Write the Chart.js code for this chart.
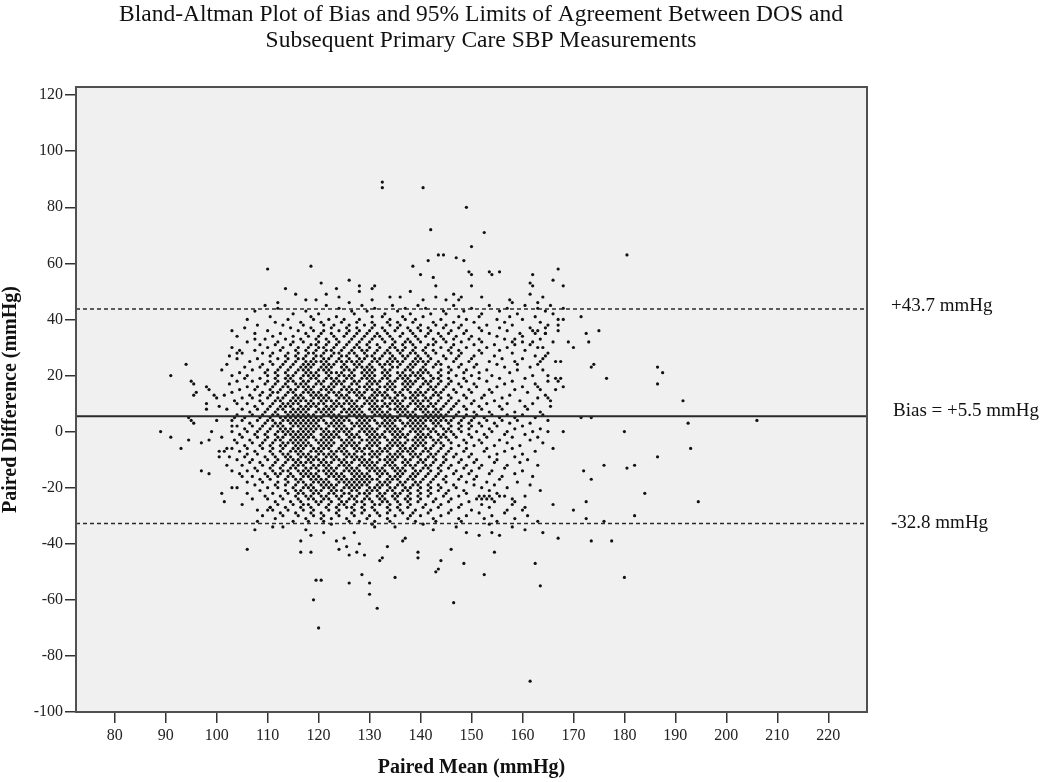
<!DOCTYPE html>
<html>
<head>
<meta charset="utf-8">
<title>Bland-Altman Plot</title>
<script src="https://cdn.jsdelivr.net/npm/chart.js@4.4.1/dist/chart.umd.min.js"></script>
<style>
  html, body { margin: 0; padding: 0; background: #fff; }
  #wrap { width: 1050px; height: 782px; }
</style>
</head>
<body>
<div id="wrap"><canvas id="baChart"></canvas></div>
<script>
// Bias and limits of agreement
const biasValue = 5.5;
const upperLoa = 43.7;
const lowerLoa = -32.8;
const limitLabels = ['+43.7 mmHg', 'Bias = +5.5 mmHg', '-32.8 mmHg'];
const titleLines = ['Bland-Altman Plot of Bias and 95% Limits of Agreement Between DOS and',
  'Subsequent Primary Care SBP Measurements'];

// axis ranges
const meanMin = 72.4, meanMax = 227.6;
const diffMin = -100, diffMax = 122.9;

// isolated points, [paired mean, paired difference]
const upperTail = [[110,58],[118.5,59],[120.5,53],[113.5,51],[117.5,47],[132.5,89],[132.5,87],[140.5,87],[149,80],[142,72],[152.5,71],[150,66],[143.5,63],[144.5,63],[141.5,61],[147,62],[148.5,61],[138.5,59],[140,56],[142.5,55],[143,52],[143,48],[149.5,57],[150,56],[153.5,57],[154,56],[155.5,57],[150,52],[148,48],[152,48],[162,56],[161.5,53],[162,52],[167,58],[166,54],[168,52],[161.5,49],[163,46],[164,48],[126,54],[123.5,51],[128,52],[130.5,51],[131,52],[134,48],[136,48],[126,46],[180.5,63],[128,50],[138,50],[130.5,47],[140.5,47],[145,47],[146.5,49],[157.5,47],[158,46],[147.5,47],[124,48],[121.5,49],[119.5,47],[115.5,49],[112,46]];
const rightTail = [[171.5,41],[172.5,35],[173,32],[175,36],[173.5,23],[174,24],[176.5,19],[186.5,23],[187.5,21],[186.5,17],[191.5,11],[171.5,5],[173.5,5],[192.5,3],[206,4],[180,0],[193,-6],[186.5,-9],[172,-14],[176,-12],[180.5,-13],[182,-12],[173.5,-17],[184,-22],[172.5,-25],[194.5,-25],[172.5,-31],[176,-32],[182,-30],[173.5,-39],[177.5,-39],[180,-52]];
const rightEdge = [[158.5,33],[158.5,31],[160,32],[162,32],[162.5,35],[163,36],[164.5,37],[164.5,35],[167,38],[168,40],[169,32],[170,30],[163,30],[163.5,25],[164,26],[164.5,27],[167.5,25],[159,24],[165,20],[166.5,19],[167,18],[167.5,19],[168,16],[163,16],[163.5,15],[165,12],[165.5,11]];
const leftTail = [[89,0],[91,-2],[94.5,-3],[97,-4],[98.5,-3],[100.5,-7],[100.5,-9],[101.5,-7],[102,-6],[102.5,-9],[102,-12],[103,-20],[103,-14],[104.5,-15],[101.5,-25],[101,-22],[97,-14],[98.5,-15],[93,-6],[110,-28],[110.5,-27],[91,20],[94,24],[103,36],[107.5,33],[102.5,27],[104,28],[104.5,29],[101,22],[95,18],[95.5,17],[96,14],[95.5,13],[98,16],[98.5,15],[99.5,13],[100,12],[98,10],[98,8],[100.5,9],[101.5,13],[94.5,5],[95,4],[95.5,3],[100,4],[99,0],[101,-2],[103,4],[103,2]];
const lowerTail = [[120,-70],[119,-60],[119.5,-53],[120.5,-53],[116.5,-39],[116.5,-43],[118.5,-43],[118.5,-37],[106,-42],[107.5,-35],[111,-34],[161.5,-89],[146.5,-61],[131.5,-63],[126,-54],[130,-54],[130,-58],[128.5,-51],[135,-52],[132,-46],[132.5,-45],[143,-50],[143.5,-49],[144,-46],[148.5,-47],[152.5,-51],[139.5,-43],[139.5,-45],[146,-42],[154.5,-43],[162.5,-47],[163.5,-55],[129,-44],[133.5,-41],[128,-40],[123.5,-39],[124,-42],[136.5,-39],[137,-38],[167,-38],[164,-36],[149,-36],[151.5,-37],[154,-36],[155.5,-37],[125,-38],[125.5,-41],[126,-44],[127.5,-43],[131,-34],[130.5,-33],[142.5,-35],[113,-34],[117.5,-35],[121,-36],[135,-34],[140.5,-33],[147,-34],[153.5,-33],[158,-34],[160.5,-35],[122.5,-33],[127,-36]];

// cloud rows: first value is the paired difference, the rest are paired means
const upperBand = [
  [45, 109.5, 121.5, 128.5, 134.5, 139.5, 146.5, 153.5, 160.5, 165.5],
  [44, 112, 124, 131, 137, 141, 150, 157, 163, 168],
  [43, 107.5, 117.5, 126.5, 129.5, 135.5, 144.5, 148.5, 155.5, 164.5],
  [42, 115, 120, 127, 133, 138, 142, 145, 152, 159, 166],
  [41, 110.5, 118.5, 123.5, 130.5, 132.5, 136.5, 140.5, 147.5, 151.5, 157.5, 162.5],
  [40, 106, 114, 119, 122, 125, 128, 134, 137, 139, 144, 149, 155, 160, 167],
  [39, 111.5, 116.5, 120.5, 124.5, 127.5, 130.5, 133.5, 135.5, 138.5, 142.5, 146.5, 150.5, 156.5, 163.5],
  [38, 108, 113, 117, 121, 123, 126, 129, 131, 134, 136, 140, 143, 145, 148, 153, 158, 165],
  [37, 105.5, 114.5, 118.5, 122.5, 125.5, 127.5, 130.5, 132.5, 135.5, 137.5, 139.5, 141.5, 144.5, 147.5, 151.5, 155.5, 161.5],
  [36, 110, 116, 119, 121, 124, 126, 128, 130, 133, 135, 138, 140, 142, 146, 149, 152, 157, 162, 167],
  [35, 107.5, 112.5, 117.5, 120.5, 122.5, 125.5, 127.5, 129.5, 131.5, 133.5, 136.5, 138.5, 141.5, 143.5, 145.5, 148.5, 153.5, 159.5, 164.5],
  [34, 104, 111, 115, 118, 120, 123, 125, 127, 129, 131, 132, 134, 136, 139, 141, 144, 147, 150, 155, 160],
  [33, 109.5, 113.5, 116.5, 119.5, 121.5, 123.5, 126.5, 128.5, 130.5, 132.5, 134.5, 137.5, 139.5, 142.5, 144.5, 146.5, 149.5, 151.5, 156.5, 163.5],
  [32, 106, 112, 115, 117, 120, 122, 124, 126, 128, 130, 133, 135, 137, 138, 140, 143, 145, 148, 152, 158, 166],
  [31, 108.5, 111.5, 114.5, 118.5, 119.5, 121.5, 123.5, 125.5, 127.5, 129.5, 131.5, 134.5, 136.5, 138.5, 141.5, 142.5, 146.5, 150.5, 154.5, 161.5],
  [30, 103, 110, 113, 116, 118, 120, 121, 123, 125, 127, 128, 130, 132, 134, 135, 137, 139, 141, 144, 146, 149, 153, 157, 164],
  [29, 107.5, 112.5, 115.5, 117.5, 119.5, 121.5, 122.5, 124.5, 126.5, 128.5, 129.5, 131.5, 133.5, 135.5, 136.5, 138.5, 140.5, 142.5, 145.5, 147.5, 151.5, 155.5, 160.5],
  [28, 105, 109, 111, 114, 116, 118, 119, 121, 123, 124, 126, 127, 129, 131, 133, 134, 136, 138, 139, 141, 143, 146, 148, 152, 158, 165],
  [27, 110.5, 113.5, 115.5, 117.5, 119.5, 120.5, 122.5, 124.5, 125.5, 127.5, 129.5, 130.5, 132.5, 134.5, 136.5, 137.5, 139.5, 141.5, 144.5, 147.5, 150.5, 154.5, 162.5],
  [26, 104, 108, 112, 114, 116, 117, 119, 121, 122, 124, 126, 128, 129, 131, 132, 134, 135, 137, 139, 140, 142, 145, 147, 150, 156, 160],
  [25, 106.5, 110.5, 113.5, 115.5, 117.5, 118.5, 119.5, 120.5, 121.5, 123.5, 124.5, 125.5, 126.5, 127.5, 128.5, 130.5, 131.5, 133.5, 134.5, 135.5, 136.5, 138.5, 139.5, 140.5, 141.5, 143.5, 146.5, 149.5, 153.5, 158.5, 166.5],
  [24, 102, 109, 111, 113, 115, 117, 118, 119, 121, 122, 123, 125, 127, 128, 130, 132, 133, 134, 136, 138, 139, 141, 143, 144, 148, 151, 155, 163],
  [23, 105.5, 108.5, 112.5, 114.5, 116.5, 117.5, 118.5, 120.5, 121.5, 122.5, 124.5, 125.5, 127.5, 128.5, 129.5, 130.5, 132.5, 134.5, 135.5, 137.5, 138.5, 140.5, 142.5, 145.5, 147.5, 150.5, 156.5, 161.5],
  [22, 107, 110, 112, 114, 116, 117, 118, 120, 121, 122, 125, 126, 127, 129, 130, 131, 133, 134, 137, 138, 140, 141, 144, 146, 149, 153, 159, 164],
  [21, 104.5, 109.5, 111.5, 113.5, 115.5, 117.5, 118.5, 119.5, 121.5, 122.5, 123.5, 124.5, 126.5, 128.5, 129.5, 130.5, 132.5, 133.5, 135.5, 136.5, 138.5, 139.5, 140.5, 141.5, 143.5, 145.5, 148.5, 151.5, 157.5],
  [20, 103, 106, 110, 112, 114, 115, 117, 118, 119, 120, 122, 124, 125, 126, 127, 129, 130, 131, 133, 134, 136, 137, 138, 139, 140, 142, 144, 147, 150, 154, 162]
];

const coreBand = [
  [19, 105.5, 108.5, 111.5, 113.5, 114.5, 116.5, 118.5, 119.5, 121.5, 122.5, 123.5, 125.5, 126.5, 128.5, 129.5, 130.5, 132.5, 133.5, 135.5, 136.5, 137.5, 139.5, 140.5, 142.5, 143.5, 145.5, 148.5, 151.5, 155.5, 160.5],
  [18, 104, 107, 110, 112, 114, 115, 117, 118, 120, 121, 123, 124, 125, 127, 128, 130, 131, 132, 134, 135, 137, 138, 139, 141, 142, 144, 146, 149, 153, 158, 165],
  [17, 102.5, 109.5, 111.5, 113.5, 115.5, 116.5, 117.5, 119.5, 120.5, 122.5, 123.5, 124.5, 126.5, 127.5, 129.5, 130.5, 131.5, 133.5, 134.5, 136.5, 137.5, 138.5, 140.5, 141.5, 143.5, 145.5, 147.5, 150.5, 156.5, 162.5],
  [16, 106, 108, 111, 113, 114, 116, 117, 118, 119, 121, 122, 123, 125, 126, 128, 129, 130, 132, 133, 134, 135, 137, 138, 140, 142, 143, 145, 148, 151, 155, 160],
  [15, 104.5, 107.5, 110.5, 112.5, 114.5, 115.5, 117.5, 118.5, 120.5, 121.5, 122.5, 124.5, 125.5, 126.5, 127.5, 129.5, 130.5, 131.5, 133.5, 134.5, 136.5, 137.5, 139.5, 141.5, 142.5, 144.5, 146.5, 149.5, 153.5, 158.5, 166.5],
  [14, 103, 109, 111, 112, 114, 115, 117, 118, 119, 120, 122, 123, 124, 126, 127, 128, 129, 131, 132, 133, 135, 136, 138, 139, 140, 141, 143, 144, 147, 150, 154, 161],
  [13, 106.5, 108.5, 110.5, 113.5, 115.5, 116.5, 118.5, 119.5, 120.5, 121.5, 123.5, 124.5, 125.5, 127.5, 128.5, 130.5, 131.5, 132.5, 133.5, 135.5, 136.5, 138.5, 139.5, 140.5, 142.5, 143.5, 145.5, 148.5, 152.5, 157.5, 164.5],
  [12, 105, 107, 110, 112, 113, 115, 116, 117, 119, 120, 121, 122, 124, 125, 126, 128, 129, 130, 131, 133, 134, 135, 137, 138, 139, 141, 142, 144, 146, 149, 152, 156, 163],
  [11, 103.5, 108.5, 111.5, 112.5, 114.5, 115.5, 116.5, 117.5, 118.5, 120.5, 121.5, 122.5, 123.5, 125.5, 126.5, 127.5, 129.5, 130.5, 131.5, 132.5, 134.5, 135.5, 136.5, 138.5, 139.5, 140.5, 141.5, 143.5, 145.5, 147.5, 150.5, 154.5, 159.5],
  [10, 104, 106, 109, 111, 113, 114, 115, 116, 118, 119, 120, 121, 123, 124, 125, 126, 127, 129, 130, 131, 133, 134, 135, 136, 138, 139, 140, 142, 143, 145, 147, 150, 153, 157, 162],
  [9, 107.5, 110.5, 112.5, 113.5, 114.5, 116.5, 117.5, 118.5, 119.5, 121.5, 122.5, 123.5, 124.5, 126.5, 127.5, 128.5, 130.5, 131.5, 132.5, 133.5, 135.5, 136.5, 137.5, 139.5, 140.5, 141.5, 142.5, 144.5, 146.5, 148.5, 151.5, 155.5, 160.5, 165.5],
  [8, 102, 105, 108, 110, 112, 113, 115, 116, 117, 118, 120, 121, 122, 123, 125, 126, 127, 128, 130, 131, 132, 134, 135, 136, 137, 139, 140, 141, 143, 144, 146, 149, 152, 156, 161],
  [7, 106.5, 109.5, 111.5, 113.5, 114.5, 115.5, 116.5, 117.5, 119.5, 120.5, 121.5, 122.5, 124.5, 125.5, 126.5, 127.5, 128.5, 130.5, 131.5, 132.5, 133.5, 135.5, 136.5, 137.5, 138.5, 140.5, 141.5, 142.5, 143.5, 145.5, 147.5, 150.5, 153.5, 158.5, 163.5],
  [6, 104, 107, 109, 111, 112, 114, 115, 116, 117, 118, 119, 121, 122, 123, 124, 126, 127, 128, 129, 131, 132, 133, 134, 136, 137, 138, 139, 141, 142, 143, 144, 145, 147, 149, 151, 154, 157, 160, 164],
  [5, 103.5, 105.5, 108.5, 110.5, 112.5, 113.5, 114.5, 115.5, 116.5, 117.5, 118.5, 119.5, 120.5, 122.5, 123.5, 124.5, 125.5, 127.5, 128.5, 129.5, 130.5, 132.5, 133.5, 134.5, 135.5, 137.5, 138.5, 139.5, 140.5, 141.5, 142.5, 143.5, 144.5, 146.5, 148.5, 150.5, 152.5, 155.5, 158.5, 162.5],
  [4, 105, 108, 110, 111, 113, 114, 115, 116, 117, 118, 119, 120, 121, 123, 124, 125, 126, 128, 129, 130, 131, 133, 134, 135, 136, 138, 139, 140, 141, 142, 143, 144, 145, 146, 148, 150, 153, 156, 159, 165],
  [3, 106.5, 109.5, 111.5, 112.5, 114.5, 115.5, 116.5, 117.5, 118.5, 119.5, 121.5, 122.5, 123.5, 124.5, 126.5, 127.5, 128.5, 129.5, 131.5, 132.5, 133.5, 134.5, 136.5, 137.5, 138.5, 139.5, 140.5, 142.5, 143.5, 145.5, 147.5, 149.5, 151.5, 154.5, 157.5, 161.5],
  [2, 104, 107, 109, 111, 112, 113, 115, 116, 117, 118, 119, 120, 122, 123, 124, 125, 127, 128, 129, 130, 132, 133, 134, 135, 137, 138, 139, 140, 141, 143, 144, 146, 148, 150, 152, 155, 160],
  [1, 105.5, 108.5, 110.5, 112.5, 113.5, 114.5, 116.5, 117.5, 118.5, 119.5, 120.5, 121.5, 123.5, 124.5, 125.5, 126.5, 128.5, 129.5, 130.5, 131.5, 133.5, 134.5, 135.5, 136.5, 138.5, 139.5, 140.5, 141.5, 142.5, 144.5, 145.5, 147.5, 149.5, 153.5, 158.5, 163.5],
  [0, 103, 106, 108, 110, 112, 113, 114, 115, 116, 117, 118, 119, 121, 122, 123, 124, 125, 126, 128, 129, 130, 131, 133, 134, 135, 136, 138, 139, 140, 142, 143, 145, 146, 148, 151, 154, 157, 162, 165, 168],
  [-1, 104.5, 107.5, 109.5, 111.5, 113.5, 114.5, 115.5, 116.5, 117.5, 118.5, 120.5, 121.5, 122.5, 123.5, 125.5, 126.5, 127.5, 129.5, 130.5, 131.5, 132.5, 134.5, 135.5, 136.5, 137.5, 139.5, 140.5, 141.5, 143.5, 144.5, 146.5, 149.5, 152.5, 156.5, 160.5],
  [-2, 105, 108, 110, 112, 113, 115, 116, 117, 118, 119, 121, 122, 123, 124, 126, 127, 128, 130, 131, 132, 133, 135, 136, 137, 139, 140, 141, 142, 144, 145, 147, 150, 153, 158, 163],
  [-3, 103.5, 106.5, 109.5, 111.5, 112.5, 114.5, 115.5, 116.5, 117.5, 119.5, 120.5, 121.5, 122.5, 124.5, 125.5, 126.5, 128.5, 129.5, 130.5, 131.5, 133.5, 134.5, 135.5, 137.5, 138.5, 139.5, 140.5, 142.5, 143.5, 145.5, 148.5, 151.5, 155.5, 161.5],
  [-4, 104, 107, 109, 111, 113, 114, 115, 116, 117, 118, 120, 121, 122, 123, 125, 126, 127, 128, 130, 131, 132, 134, 135, 136, 137, 139, 140, 141, 143, 144, 146, 149, 152, 157, 164],
  [-5, 105.5, 108.5, 110.5, 112.5, 113.5, 115.5, 116.5, 117.5, 118.5, 120.5, 121.5, 122.5, 124.5, 125.5, 126.5, 127.5, 129.5, 130.5, 131.5, 133.5, 134.5, 135.5, 136.5, 138.5, 139.5, 140.5, 142.5, 144.5, 147.5, 150.5, 154.5, 159.5]
];

const lowerBand = [
  [-6, 103, 106, 109, 111, 113, 115, 116, 117, 119, 120, 121, 122, 124, 125, 127, 128, 129, 130, 132, 133, 134, 136, 137, 138, 139, 141, 142, 144, 146, 149, 153, 158, 166],
  [-7, 104.5, 107.5, 110.5, 112.5, 114.5, 115.5, 116.5, 118.5, 119.5, 120.5, 122.5, 123.5, 124.5, 125.5, 127.5, 128.5, 130.5, 131.5, 132.5, 133.5, 135.5, 136.5, 137.5, 138.5, 140.5, 141.5, 143.5, 145.5, 148.5, 152.5, 156.5, 162.5],
  [-8, 106, 108, 111, 113, 114, 116, 117, 118, 120, 121, 122, 123, 125, 126, 127, 129, 130, 131, 132, 134, 135, 136, 138, 139, 140, 142, 143, 145, 147, 150, 155, 160],
  [-9, 105.5, 109.5, 111.5, 113.5, 114.5, 116.5, 117.5, 118.5, 119.5, 121.5, 122.5, 123.5, 125.5, 126.5, 127.5, 128.5, 130.5, 131.5, 133.5, 134.5, 135.5, 136.5, 138.5, 139.5, 141.5, 142.5, 144.5, 146.5, 149.5, 153.5, 158.5],
  [-10, 104, 107, 110, 112, 114, 115, 116, 118, 119, 120, 121, 123, 124, 125, 127, 128, 129, 130, 132, 133, 134, 135, 137, 138, 140, 141, 143, 145, 148, 151, 155, 161],
  [-11, 106.5, 108.5, 111.5, 113.5, 115.5, 116.5, 117.5, 118.5, 120.5, 121.5, 122.5, 124.5, 125.5, 126.5, 128.5, 129.5, 130.5, 131.5, 133.5, 134.5, 136.5, 137.5, 139.5, 140.5, 142.5, 144.5, 147.5, 150.5, 154.5, 159.5],
  [-12, 105, 109, 111, 113, 115, 116, 117, 119, 120, 121, 122, 124, 125, 126, 128, 129, 130, 131, 133, 134, 135, 137, 138, 139, 141, 142, 144, 146, 149, 152, 157, 163],
  [-13, 107.5, 110.5, 112.5, 114.5, 115.5, 117.5, 118.5, 119.5, 121.5, 122.5, 123.5, 125.5, 126.5, 127.5, 129.5, 130.5, 131.5, 132.5, 134.5, 135.5, 136.5, 138.5, 140.5, 141.5, 143.5, 145.5, 148.5, 151.5, 156.5],
  [-14, 106, 108, 111, 113, 114, 116, 117, 118, 120, 121, 122, 123, 125, 126, 127, 128, 130, 131, 132, 133, 135, 136, 137, 139, 140, 142, 144, 147, 150, 154, 160],
  [-15, 109.5, 111.5, 112.5, 114.5, 116.5, 117.5, 118.5, 119.5, 121.5, 122.5, 123.5, 124.5, 126.5, 127.5, 128.5, 129.5, 131.5, 132.5, 133.5, 135.5, 136.5, 138.5, 139.5, 141.5, 143.5, 146.5, 149.5, 153.5, 158.5],
  [-16, 105, 107, 110, 112, 114, 115, 117, 118, 119, 120, 122, 123, 124, 125, 127, 128, 129, 130, 132, 134, 135, 136, 138, 139, 141, 143, 145, 148, 151, 156, 162],
  [-17, 108.5, 110.5, 113.5, 115.5, 116.5, 118.5, 119.5, 120.5, 121.5, 123.5, 124.5, 125.5, 126.5, 127.5, 128.5, 129.5, 130.5, 131.5, 133.5, 134.5, 135.5, 137.5, 138.5, 140.5, 142.5, 144.5, 147.5, 150.5, 155.5],
  [-18, 106, 109, 112, 114, 116, 117, 119, 120, 121, 122, 124, 125, 126, 127, 128, 129, 130, 132, 133, 134, 136, 137, 139, 140, 142, 145, 149, 153, 159],
  [-19, 107.5, 111.5, 113.5, 115.5, 117.5, 118.5, 120.5, 121.5, 122.5, 123.5, 125.5, 126.5, 127.5, 128.5, 129.5, 131.5, 132.5, 133.5, 135.5, 136.5, 138.5, 139.5, 141.5, 143.5, 146.5, 150.5, 154.5, 161.5],
  [-20, 104, 110, 112, 115, 117, 118, 119, 121, 122, 123, 125, 126, 127, 128, 130, 131, 132, 134, 135, 137, 138, 140, 142, 144, 147, 152, 157],
  [-21, 108.5, 113.5, 115.5, 116.5, 118.5, 119.5, 120.5, 122.5, 123.5, 124.5, 126.5, 127.5, 129.5, 130.5, 131.5, 133.5, 134.5, 136.5, 137.5, 139.5, 141.5, 143.5, 145.5, 148.5, 153.5, 163.5],
  [-22, 106, 111, 114, 116, 117, 119, 120, 122, 123, 125, 126, 128, 129, 130, 132, 133, 135, 136, 138, 140, 142, 145, 149, 155],
  [-23, 109.5, 112.5, 115.5, 117.5, 118.5, 120.5, 121.5, 123.5, 124.5, 126.5, 127.5, 129.5, 131.5, 132.5, 134.5, 135.5, 137.5, 139.5, 141.5, 144.5, 147.5, 151.5, 152.5, 153.5, 155.5, 156.5, 160.5],
  [-24, 107, 110, 113, 116, 118, 119, 121, 122, 124, 126, 127, 129, 130, 132, 133, 135, 137, 138, 140, 143, 146, 151, 152, 153, 154, 158],
  [-25, 111.5, 114.5, 116.5, 119.5, 120.5, 122.5, 124.5, 125.5, 127.5, 128.5, 130.5, 132.5, 133.5, 135.5, 137.5, 139.5, 142.5, 145.5, 149.5, 154.5, 158.5],
  [-26, 105, 112, 115, 117, 118, 120, 122, 124, 125, 127, 129, 131, 132, 134, 136, 138, 141, 144, 148, 152, 158, 166],
  [-27, 110.5, 113.5, 116.5, 118.5, 121.5, 123.5, 125.5, 126.5, 128.5, 130.5, 133.5, 135.5, 137.5, 140.5, 143.5, 147.5, 153.5, 160.5],
  [-28, 108, 111, 114, 117, 119, 122, 124, 127, 129, 131, 134, 136, 139, 142, 146, 150, 157, 160, 170],
  [-29, 112.5, 115.5, 118.5, 120.5, 123.5, 126.5, 128.5, 131.5, 133.5, 136.5, 138.5, 141.5, 145.5, 151.5, 156.5],
  [-30, 109, 113, 116, 119, 121, 124, 127, 130, 132, 135, 138, 140, 144, 149, 154, 161],
  [-31, 111.5, 117.5, 120.5, 122.5, 125.5, 129.5, 133.5, 137.5, 142.5, 147.5, 152.5, 158.5],
  [-32, 108, 115, 118, 121, 126, 128, 131, 134, 139, 143, 148, 155, 163]
];

// build point list
let points = [];
upperTail.concat(rightTail, rightEdge, leftTail, lowerTail).forEach(p => {
  points.push({x: p[0], y: p[1]});
});
[upperBand, coreBand, lowerBand].forEach(rows => {
  rows.forEach(row => {
    row.slice(1).forEach(m => points.push({x: m, y: row[0]}));
  });
});

function refLine(v, dash, width) {
  return {
    data: [{x: meanMin, y: v}, {x: meanMax, y: v}],
    showLine: true,
    pointRadius: 0,
    borderColor: '#2a2a2a',
    borderWidth: width,
    borderDash: dash
  };
}

// draws the grey panel, frame, title and the limit labels
const framePlugin = {
  id: 'frame',
  beforeDraw(chart) {
    const {ctx, chartArea: a} = chart;
    ctx.save();
    ctx.fillStyle = '#f0f0f0';
    ctx.fillRect(a.left, a.top, a.right - a.left, a.bottom - a.top);
    ctx.restore();
  },
  afterDraw(chart) {
    const {ctx, chartArea: a} = chart;
    const yScale = chart.scales.y;
    ctx.save();
    ctx.strokeStyle = '#505050';
    ctx.lineWidth = 2;
    ctx.strokeRect(a.left, a.top, a.right - a.left, a.bottom - a.top);

    ctx.fillStyle = '#111';
    ctx.textAlign = 'center';
    ctx.textBaseline = 'alphabetic';
    ctx.font = '23.5px "Liberation Serif"';
    ctx.fillText(titleLines[0], 481, 21);
    ctx.fillText(titleLines[1], 481, 47);

    ctx.textAlign = 'left';
    ctx.textBaseline = 'middle';
    ctx.font = '19px "Liberation Serif"';
    ctx.fillText(limitLabels[0], 891, yScale.getPixelForValue(upperLoa) - 3);
    ctx.fillText(limitLabels[1], 893, yScale.getPixelForValue(biasValue) - 5);
    ctx.fillText(limitLabels[2], 891, yScale.getPixelForValue(lowerLoa) - 1);
    ctx.restore();
  }
};

Chart.defaults.font.family = '"Liberation Serif", "Times New Roman", serif';
Chart.defaults.color = '#222';

let ctx = document.getElementById('baChart').getContext('2d');

new Chart(ctx, {
  type: 'scatter',
  data: {
    datasets: [
      refLine(upperLoa, [4, 3], 1.5),
      refLine(biasValue, [], 2),
      refLine(lowerLoa, [4, 3], 1.5),
      {
        data: points,
        pointRadius: 1.6,
        pointBackgroundColor: '#111',
        pointBorderWidth: 0
      }
    ]
  },
  options: {
    responsive: true,
    maintainAspectRatio: false,
    animation: false,
    layout: {
      padding: {left: 0, right: 183, top: 87, bottom: 0}
    },
    plugins: {
      legend: { display: false },
      tooltip: { enabled: false }
    },
    scales: {
      x: {
        type: 'linear',
        min: meanMin,
        max: meanMax,
        afterFit(scale) { scale.height = 70; },
        ticks: {
          stepSize: 10,
          includeBounds: false,
          padding: 3,
          font: { size: 16 }
        },
        grid: {
          drawOnChartArea: false,
          tickLength: 11,
          color: '#333',
          lineWidth: 1.5
        },
        border: { color: '#505050', width: 2 },
        title: {
          display: true,
          text: 'Paired Mean (mmHg)',
          color: '#111',
          font: { size: 20, weight: 'bold', lineHeight: 1 },
          padding: { top: 0, bottom: 4 }
        }
      },
      y: {
        min: diffMin,
        max: diffMax,
        afterFit(scale) { scale.width = 76; },
        ticks: {
          stepSize: 20,
          includeBounds: false,
          padding: 2,
          font: { size: 16 }
        },
        grid: {
          drawOnChartArea: false,
          tickLength: 11,
          color: '#333',
          lineWidth: 1.5
        },
        border: { color: '#505050', width: 2 },
        title: {
          display: true,
          text: 'Paired Difference (mmHg)',
          color: '#111',
          font: { size: 20, weight: 'bold', lineHeight: 1 },
          padding: { top: 1, bottom: 0 }
        }
      }
    }
  },
  plugins: [framePlugin]
});
</script>
</body>
</html>
